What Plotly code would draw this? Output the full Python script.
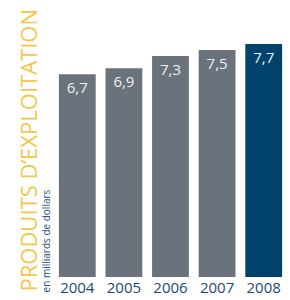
import plotly.graph_objects as go

years = ["2004", "2005", "2006", "2007", "2008"]
values = [6.7, 6.9, 7.3, 7.5, 7.7]
labels = ["6,7", "6,9", "7,3", "7,5", "7,7"]
bar_colors = ["#6a727b", "#6a727b", "#6a727b", "#6a727b", "#00446b"]

W, H = 290, 300
ML, MR, MT, MB = 54, 3, 30, 20

fig = go.Figure(go.Bar(
    x=years, y=values, text=labels,
    marker=dict(color=bar_colors, line=dict(width=0)),
    textposition="inside", insidetextanchor="end",
    textfont=dict(family="Open Sans", size=15, color="#eef0f2"),
    cliponaxis=False, hoverinfo="skip",
))

pw = W - ML - MR
ph = H - MT - MB

def ann(text, px, py, size, color):
    return dict(text=text, textangle=-90,
                x=(px - ML) / pw, y=(H - MB - py) / ph,
                xref="paper", yref="paper", xanchor="center", yanchor="middle",
                showarrow=False, font=dict(family="Open Sans", size=size, color=color))

fig.update_layout(
    width=W, height=H,
    margin=dict(l=ML, r=MR, t=MT, b=MB),
    paper_bgcolor="white", plot_bgcolor="white",
    bargap=0.21, showlegend=False,
    xaxis=dict(showgrid=False, showline=False, ticks="",
               tickfont=dict(family="Open Sans", size=15, color="#1a4a72")),
    yaxis=dict(range=[0, 8.16], visible=False),
    annotations=[
        ann("PRODUITS D\u2019EXPLOITATION", 28, 152, 22, "#f6c64b"),
        ann("en milliards de dollars", 46, 244, 10, "#1d4f77"),
    ],
)

fig.write_html("out.html", config={"displayModeBar": False},
               post_script="document.body.style.margin='0';")
